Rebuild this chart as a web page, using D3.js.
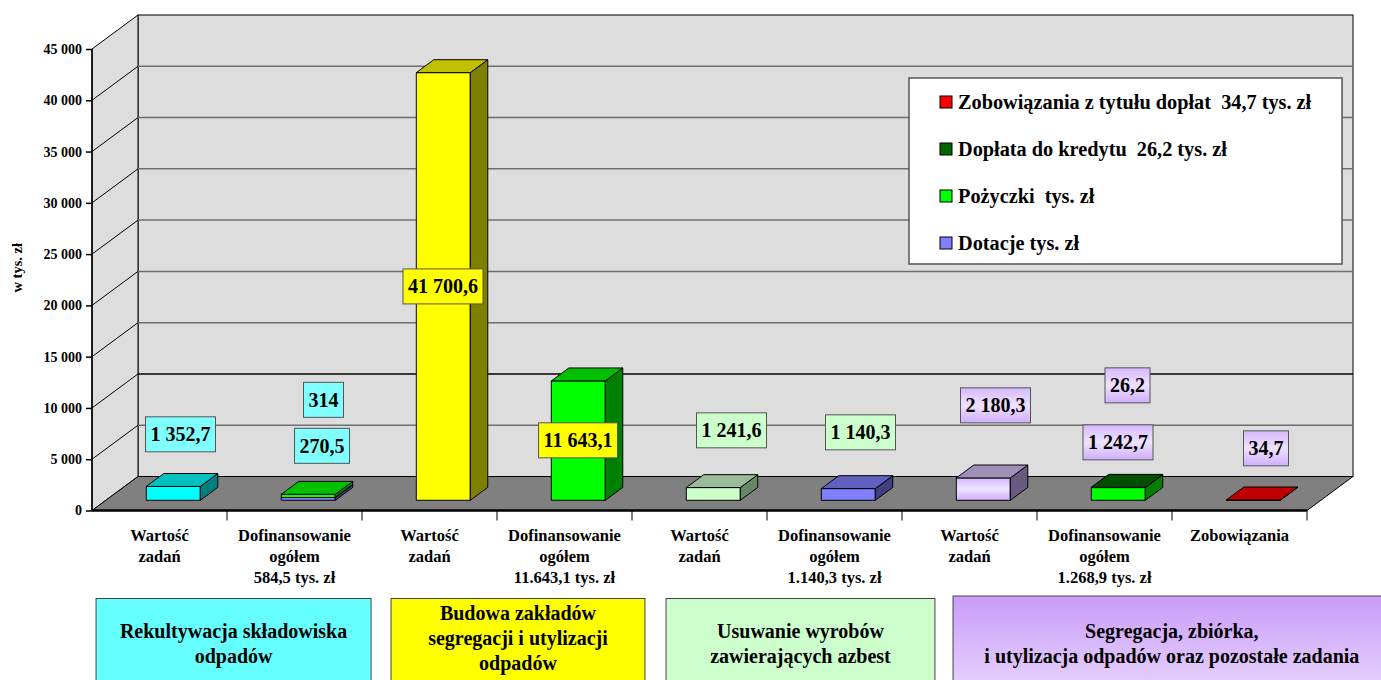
<!DOCTYPE html>
<html>
<head>
<meta charset="utf-8">
<style>
    body {
        margin: 0;
        background: #fff;
    }

    svg text {
        font-family: "Liberation Serif", "Times New Roman", "DejaVu Serif", serif;
        font-weight: bold;
    }

    .y .tick text {
        font-size: 14px;
        fill: #000;
    }

    .y .domain {
        display: none;
    }

    .cat-label {
        font-size: 16.5px;
    }

    .val-label {
        font-size: 20px;
    }

    .legend text {
        font-size: 20.3px;
        white-space: pre;
    }

    .group-label {
        font-size: 20px;
    }
</style>
</head>
<body>
<svg width="1381" height="680"></svg>

<script src="https://d3js.org/d3.v7.min.js"></script>
<script>
    // ---- data (w tys. zł) ----
    let categories = [
        ["Wartość", "zadań"],
        ["Dofinansowanie", "ogółem", "584,5 tys. zł"],
        ["Wartość", "zadań"],
        ["Dofinansowanie", "ogółem", "11.643,1 tys. zł"],
        ["Wartość", "zadań"],
        ["Dofinansowanie", "ogółem", "1.140,3 tys. zł"],
        ["Wartość", "zadań"],
        ["Dofinansowanie", "ogółem", "1.268,9 tys. zł"],
        ["Zobowiązania"]
    ]

    let wartosc = [1352.7, 0, 41700.6, 0, 1241.6, 0, 2180.3, 0, 0]
    let dotacje = [0, 270.5, 0, 0, 0, 1140.3, 0, 0, 0]
    let pozyczki = [0, 314, 0, 11643.1, 0, 0, 0, 1242.7, 0]
    let doplata = [0, 0, 0, 0, 0, 0, 0, 26.2, 0]
    let zobowiazania = [0, 0, 0, 0, 0, 0, 0, 0, 34.7]

    let groupOfCategory = [0, 0, 1, 1, 2, 2, 3, 3, 3]
    let groupNames = [
        ["Rekultywacja składowiska", "odpadów"],
        ["Budowa zakładów", "segregacji i utylizacji", "odpadów"],
        ["Usuwanie wyrobów", "zawierających azbest"],
        ["Segregacja, zbiórka,", "i utylizacja odpadów oraz pozostałe zadania"]
    ]

    let yTicks = [0, 5000, 10000, 15000, 20000, 25000, 30000, 35000, 40000, 45000]

    let legendItems = [
        { key: "zobowiazania", label: "Zobowiązania z tytułu dopłat  34,7 tys. zł" },
        { key: "doplata", label: "Dopłata do kredytu  26,2 tys. zł" },
        { key: "pozyczki", label: "Pożyczki  tys. zł" },
        { key: "dotacje", label: "Dotacje tys. zł" }
    ]

    // ---- layout / styles ----
    let svg = d3.select("svg")

    let defs = svg.append("defs")
    let lav = defs.append("linearGradient").attr("id", "lav").attr("x1", 0).attr("y1", 0).attr("x2", 0).attr("y2", 1)
    lav.append("stop").attr("offset", "0%").attr("stop-color", "#d6b8ff")
    lav.append("stop").attr("offset", "50%").attr("stop-color", "#efe2ff")
    lav.append("stop").attr("offset", "100%").attr("stop-color", "#cfaefc")
    let lavBox = defs.append("linearGradient").attr("id", "lavBox").attr("x1", 0).attr("y1", 0).attr("x2", 0).attr("y2", 1)
    lavBox.append("stop").attr("offset", "0%").attr("stop-color", "#c99cf8")
    lavBox.append("stop").attr("offset", "100%").attr("stop-color", "#ecdcff")

    let keys = ["wartosc", "dotacje", "pozyczki", "doplata", "zobowiazania"]
    let table = categories.map((c, i) => ({
        i: i,
        wartosc: wartosc[i],
        dotacje: dotacje[i],
        pozyczki: pozyczki[i],
        doplata: doplata[i],
        zobowiazania: zobowiazania[i]
    }))

    let groupFaces = [
        { front: "#00ffff", top: "#00c0c0", side: "#008080" },
        { front: "#ffff00", top: "#c0c000", side: "#808000" },
        { front: "#ccffcc", top: "#99bb99", side: "#668866" },
        { front: "url(#lav)", top: "#a090b8", side: "#6a5a80" }
    ]
    let seriesFaces = {
        dotacje: { front: "#8080ff", top: "#6060c0", side: "#404080" },
        pozyczki: { front: "#00ff00", top: "#00c000", side: "#008000" },
        doplata: { front: "#006600", top: "#005000", side: "#003c00" },
        zobowiazania: { front: "#ff0000", top: "#c00000", side: "#800000" }
    }
    let labelFills = ["#80ffff", "#ffff00", "#ccffcc", "url(#lav)"]
    let groupFills = ["#66ffff", "#ffff00", "#ccffcc", "url(#lavBox)"]

    // depth of the floor and of the bars
    let depth = { dx: 46, dy: -34 }
    let barFront = 0.3      // bar front face, fraction of floor depth
    let barDepth = 0.38     // bar depth, fraction of floor depth

    let x = d3.scaleBand()
        .domain(d3.range(categories.length))
        .range([92, 1307])
        .padding(0)

    let y = d3.scaleLinear()
        .domain([0, 45000])
        .range([510.5, 49])

    let pl = d3.formatLocale({ decimal: ",", thousands: " ", grouping: [3], currency: ["", " zł"] })
    let fmtTick = pl.format(",.0f")
    let fmtVal = v => Number.isInteger(v) ? pl.format(",.0f")(v) : pl.format(",.1f")(v)

    let x0 = x.range()[0], x1 = x.range()[1]
    let yTop = y(45000), yBot = y(0)

    // ---- walls ----
    // back wall
    svg.append("rect")
        .attr("x", x0 + depth.dx).attr("y", yTop + depth.dy)
        .attr("width", x1 - x0).attr("height", yBot - yTop)
        .attr("fill", "#dddddd").attr("stroke", "#000").attr("stroke-width", 1)
    // left wall
    svg.append("polygon")
        .attr("points", [[x0, yTop], [x0 + depth.dx, yTop + depth.dy], [x0 + depth.dx, yBot + depth.dy], [x0, yBot]].join(" "))
        .attr("fill", "#dddddd").attr("stroke", "#000").attr("stroke-width", 1)

    // grid lines
    let grid = svg.append("g")
    grid.selectAll(".back")
        .data(yTicks.filter(d => d > 0 && d < 45000))
        .join("line")
        .attr("x1", x0 + depth.dx).attr("x2", x1 + depth.dx)
        .attr("y1", d => y(d) + depth.dy).attr("y2", d => y(d) + depth.dy)
        .attr("stroke", d => d % 10000 == 0 && d < 15000 ? "#000" : "#6e6e6e")
        .attr("stroke-width", 1.5)
    grid.selectAll(".side")
        .data(yTicks.filter(d => d > 0 && d < 45000))
        .join("line")
        .attr("x1", x0).attr("x2", x0 + depth.dx)
        .attr("y1", d => y(d)).attr("y2", d => y(d) + depth.dy)
        .attr("stroke", "#000").attr("stroke-width", 1)

    // floor
    svg.append("polygon")
        .attr("points", [[x0, yBot], [x0 + depth.dx, yBot + depth.dy], [x1 + depth.dx, yBot + depth.dy], [x1, yBot]].join(" "))
        .attr("fill", "#808080").attr("stroke", "#000").attr("stroke-width", 1)

    // ---- bars ----
    let series = d3.stack().keys(keys)(table)

    let bw = x.bandwidth() * 0.4
    let fdx = depth.dx * barFront, fdy = depth.dy * barFront
    let bdx = depth.dx * barDepth, bdy = depth.dy * barDepth

    function faces(key, i) {
        return key == "wartosc" ? groupFaces[groupOfCategory[i]] : seriesFaces[key]
    }

    let bars = svg.append("g")
    categories.forEach((c, i) => {
        let bx = x(i) + x.bandwidth() / 2 - bw / 2 + fdx
        series.forEach(s => {
            let seg = s[i]
            if (seg[1] - seg[0] <= 0) return
            let f = faces(s.key, i)
            let yt = y(seg[1]) + fdy, yb = y(seg[0]) + fdy
            let g = bars.append("g").attr("stroke", "#000").attr("stroke-width", 1).attr("stroke-linejoin", "round")
            g.append("rect")
                .attr("x", bx).attr("y", yt).attr("width", bw).attr("height", Math.max(yb - yt, 0.01))
                .attr("fill", f.front)
            g.append("polygon")
                .attr("points", [[bx + bw, yt], [bx + bw + bdx, yt + bdy], [bx + bw + bdx, yb + bdy], [bx + bw, yb]].join(" "))
                .attr("fill", f.side)
            g.append("polygon")
                .attr("points", [[bx, yt], [bx + bdx, yt + bdy], [bx + bw + bdx, yt + bdy], [bx + bw, yt]].join(" "))
                .attr("fill", f.top)
        })
    })

    // ---- axes ----
    let yAxis = svg.append("g")
        .attr("class", "y axis")
        .attr("transform", `translate(${x0},0)`)
        .call(d3.axisLeft(y).tickValues(yTicks).tickSize(6).tickPadding(4).tickFormat(fmtTick))
    yAxis.selectAll(".tick line").attr("stroke", "#000").attr("stroke-width", 1.5)

    svg.append("line")
        .attr("x1", x0).attr("x2", x0).attr("y1", yTop).attr("y2", yBot)
        .attr("stroke", "#000").attr("stroke-width", 1.5)
    svg.append("line")
        .attr("x1", x0).attr("x2", x1).attr("y1", yBot).attr("y2", yBot)
        .attr("stroke", "#000").attr("stroke-width", 2.5)

    svg.selectAll(".xtick")
        .data(d3.range(1, categories.length + 1))
        .join("line")
        .attr("x1", d => x0 + d * x.step()).attr("x2", d => x0 + d * x.step())
        .attr("y1", yBot).attr("y2", yBot + 10)
        .attr("stroke", "#000").attr("stroke-width", 1)

    svg.append("text")
        .attr("transform", `translate(17,${(yTop + yBot) / 2 - 12}) rotate(-90)`)
        .attr("text-anchor", "middle")
        .attr("dominant-baseline", "central")
        .style("font-size", "14.5px")
        .text("w tys. zł")

    // category labels
    let catLabels = svg.append("g")
    categories.forEach((lines, i) => {
        let t = catLabels.append("text")
            .attr("class", "cat-label")
            .attr("text-anchor", "middle")
            .attr("x", x(i) + x.bandwidth() / 2)
            .attr("y", 541)
        lines.forEach((l, k) => {
            t.append("tspan").attr("x", x(i) + x.bandwidth() / 2).attr("dy", k == 0 ? 0 : 21).text(l)
        })
    })

    // ---- value labels ----
    // category, series, level (axis units) and x shift for each boxed label
    let labelLayout = [
        [0, "wartosc", 7430, 21],
        [1, "pozyczki", 10790, 29],
        [1, "dotacje", 6306, 27.5],
        [2, "wartosc", 21850, 13.5],
        [3, "pozyczki", 6842, 13.5],
        [4, "wartosc", 7817, 32],
        [5, "dotacje", 7622, 26],
        [6, "wartosc", 10253, 26],
        [7, "doplata", 12203, 23],
        [7, "pozyczki", 6647, 13.5],
        [8, "zobowiazania", 6062, 26.5]
    ]

    let valLabels = svg.append("g")
    labelLayout.forEach(([i, key, lvl, shift]) => {
        let cx = x(i) + x.bandwidth() / 2 + shift
        let cy = y(lvl)
        let g = valLabels.append("g")
        let rect = g.append("rect")
        let t = g.append("text")
            .attr("class", "val-label")
            .attr("text-anchor", "middle")
            .attr("x", cx).attr("y", cy + 7)
            .text(fmtVal(table[i][key]))
        let w = t.node().getComputedTextLength() + 10
        rect.attr("x", cx - w / 2).attr("y", cy - 17.5)
            .attr("width", w).attr("height", 35)
            .attr("fill", labelFills[groupOfCategory[i]])
            .attr("stroke", "#555").attr("stroke-width", 1)
    })

    // ---- legend ----
    let legend = svg.append("g").attr("class", "legend")
    legend.append("rect")
        .attr("x", 909).attr("y", 78).attr("width", 433).attr("height", 186)
        .attr("fill", "#fff").attr("stroke", "#555").attr("stroke-width", 1.5)
    legendItems.forEach((d, k) => {
        let cy = 102 + k * 47
        legend.append("rect")
            .attr("x", 940).attr("y", cy - 6).attr("width", 12).attr("height", 12)
            .attr("fill", seriesFaces[d.key].front).attr("stroke", "#000").attr("stroke-width", 1)
        legend.append("text")
            .attr("x", 958).attr("y", cy + 7)
            .text(d.label)
    })

    // ---- group boxes below the axis (edges in category units) ----
    let groupSpan = [[0.03, 2.067], [2.215, 4.096], [4.252, 6.244], [6.378, 9.62]]
    let u = d3.scaleLinear().domain([0, categories.length]).range([x0, x1])

    let groups = svg.append("g")
    groupNames.forEach((lines, gi) => {
        let [a, b] = groupSpan[gi]
        groups.append("rect")
            .attr("x", u(a)).attr("y", gi == 3 ? 596 : 598.5)
            .attr("width", u(b) - u(a)).attr("height", 110)
            .attr("fill", groupFills[gi]).attr("stroke", "#444").attr("stroke-width", 1)
        let cx = (u(a) + u(b)) / 2
        let start = lines.length == 3 ? 620 : 638
        let t = groups.append("text")
            .attr("class", "group-label")
            .attr("text-anchor", "middle")
            .attr("x", cx).attr("y", start)
        lines.forEach((l, k) => {
            t.append("tspan").attr("x", cx).attr("dy", k == 0 ? 0 : 25).text(l)
        })
    })
</script>
</body>
</html>
